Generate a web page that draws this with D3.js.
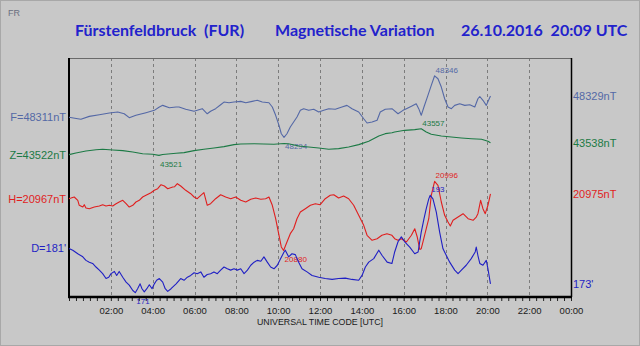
<!DOCTYPE html>
<html>
<head>
<meta charset="utf-8">
<script src="https://cdn.jsdelivr.net/npm/d3@7"></script>
<style>
  html, body { margin: 0; padding: 0; background: #c8c8c8; }
  svg { display: block; }
</style>
</head>
<body>
<svg id="chart" width="640" height="346"></svg>
<script>
// Hours on the x axis with labels (24 h is shown as the next midnight)
const hourTicks = [2, 4, 6, 8, 10, 12, 14, 16, 18, 20, 22, 24];
const hourLabels = ["02:00", "04:00", "06:00", "08:00", "10:00", "12:00",
                    "14:00", "16:00", "18:00", "20:00", "22:00", "00:00"];

// Total field F [nT] — [hour UTC, value]
const fSeries = [
  [0,48311],[0.42,48309.7],[0.57,48309.2],[0.97,48311.7],[1.45,48313.1],[1.93,48314.5],
  [2.33,48315.4],[2.64,48313.9],[2.88,48310.6],[3.2,48312.6],[3.68,48314.8],[4.08,48316.8],
  [4.32,48319.6],[4.48,48321],[4.8,48319],[5.12,48319.6],[5.26,48319.6],[5.58,48317.7],
  [5.98,48316],[6.13,48316.8],[6.37,48318.2],[6.61,48313.9],[6.77,48316],[7.01,48318.2],
  [7.25,48321.5],[7.41,48323.8],[7.65,48323.2],[7.89,48323.8],[8.21,48324.4],[8.45,48323.2],
  [8.76,48324.4],[9.0,48325.3],[9.24,48323.8],[9.56,48323.2],[9.72,48319.6],[9.88,48312.6],
  [10.04,48304.1],[10.15,48297],[10.28,48294],[10.42,48297],[10.58,48302.7],[10.74,48306.9],
  [10.9,48311.2],[11.06,48316.8],[11.22,48318.2],[11.46,48316.8],[11.7,48317.7],[11.94,48315.4],
  [12.18,48316.8],[12.42,48318.2],[12.73,48317.7],[13.05,48319.6],[13.29,48321],[13.53,48318.2],
  [13.85,48315.4],[14.09,48309.7],[14.25,48306.1],[14.49,48306.9],[14.73,48308.4],[14.88,48315.4],
  [15.12,48317.7],[15.44,48318.2],[15.73,48313.9],[15.97,48316.8],[16.13,48318.2],[16.37,48320.2],
  [16.6,48322.4],[16.72,48318.2],[16.84,48312.6],[16.97,48319.6],[17.16,48329.5],[17.32,48337.9],
  [17.48,48346],[17.64,48343.5],[17.8,48336.5],[17.96,48326.6],[18.12,48319.6],[18.28,48318.2],
  [18.44,48321],[18.68,48322.4],[18.92,48321],[19.16,48321.5],[19.4,48319.6],[19.55,48326.6],
  [19.64,48328.5],[19.79,48325.3],[19.95,48321],[20.15,48329]
];

// Vertical component Z [nT]
const zSeries = [
  [0,43522],[0.33,43524.3],[0.81,43527],[1.29,43528.7],[1.61,43529.3],[2.09,43528.3],
  [2.57,43527.4],[3.05,43525.6],[3.52,43523.3],[4.0,43522.6],[4.3,43521],[4.48,43522.3],
  [5.12,43523.9],[5.5,43524.7],[5.98,43527.4],[6.45,43529.3],[6.93,43531],[7.41,43532.8],
  [7.89,43535.5],[8.21,43536.4],[8.85,43536.8],[9.32,43536.4],[9.8,43536],[10.28,43537],
  [10.49,43536.8],[10.98,43533.7],[11.46,43532.4],[11.94,43531],[12.42,43529.3],[12.89,43530.1],
  [13.37,43532.4],[13.85,43535.5],[14.33,43540],[14.81,43547.2],[15.12,43550.3],[15.44,43551.6],
  [15.57,43552.6],[16.05,43554.8],[16.53,43555.7],[16.84,43557],[17.08,43552.6],[17.32,43549.5],
  [17.8,43547.2],[18.28,43545.8],[18.76,43544.5],[19.24,43543.5],[19.72,43542.7],[20.03,43540],
  [20.15,43538]
];

// Horizontal component H [nT]
const hSeries = [
  [0,20967],[0.1,20968],[0.25,20969.7],[0.42,20964.1],[0.49,20955.8],[0.66,20952.9],
  [0.73,20956.8],[0.81,20951.2],[0.97,20950.1],[1.21,20952.9],[1.45,20954.6],[1.61,20956.8],
  [1.77,20954.6],[1.93,20955.8],[2.09,20954.6],[2.25,20958.4],[2.4,20961.3],[2.57,20964.1],
  [2.73,20958.4],[2.88,20952.9],[3.05,20955.8],[3.2,20961.3],[3.36,20964.1],[3.52,20969.7],
  [3.68,20972.5],[3.92,20976.9],[4.08,20980.9],[4.24,20983.6],[4.4,20990.3],[4.56,20988.1],
  [4.72,20983.6],[4.96,20986.4],[5.05,20987],[5.18,20992],[5.34,20988.1],[5.58,20980.9],
  [5.82,20975.2],[5.98,20969.7],[6.13,20966.8],[6.3,20972.5],[6.45,20976.9],[6.61,20955.8],
  [6.77,20958.4],[7.01,20966.8],[7.25,20973.5],[7.49,20969.7],[7.73,20966.8],[7.97,20969.7],
  [8.21,20964.1],[8.45,20961.3],[8.69,20965.8],[8.93,20968],[9.17,20965.8],[9.4,20966.8],
  [9.56,20969.7],[9.72,20955.8],[9.88,20933.3],[10.04,20905.5],[10.15,20885.9],[10.26,20880],
  [10.42,20894.2],[10.58,20908.2],[10.74,20916.5],[10.9,20933.3],[11.06,20944.5],[11.3,20950.1],
  [11.54,20955.8],[11.78,20958.4],[12.01,20956.8],[12.25,20966.8],[12.49,20972.5],[12.66,20973.5],
  [12.89,20968],[13.13,20971.3],[13.37,20966.8],[13.61,20955.8],[13.85,20939],[14.09,20922.2],
  [14.25,20905.5],[14.49,20897.1],[14.73,20899.8],[14.96,20905.5],[15.2,20908.2],[15.44,20905.5],
  [15.57,20899.8],[15.73,20897.1],[15.89,20899.8],[16.13,20894.2],[16.37,20905.5],[16.53,20916.5],
  [16.65,20902.6],[16.77,20881.7],[16.84,20883],[16.92,20894.2],[17.08,20916.5],[17.2,20933.3],
  [17.32,20972.5],[17.48,20996],[17.64,20989.3],[17.8,20961.3],[17.96,20939],[18.12,20927.8],
  [18.23,20921.1],[18.36,20930.6],[18.6,20936.1],[18.84,20941.7],[19.08,20933.3],[19.32,20930.6],
  [19.47,20936.1],[19.55,20941.7],[19.68,20964.1],[19.79,20950.1],[19.9,20941.7],[20.03,20955.8],
  [20.15,20975]
];

// Declination D [arc minutes]
const dSeries = [
  [0,181],[0.18,180.6],[0.42,179.8],[0.66,179.1],[0.81,178.3],[0.97,177.9],[1.13,177.6],
  [1.29,176.8],[1.45,176.1],[1.61,175.3],[1.77,174.2],[1.9,174.5],[2.01,175.3],[2.17,175.8],
  [2.28,174.9],[2.4,175.8],[2.57,174.5],[2.73,173.4],[2.88,172.7],[3.05,171.5],[3.17,171],
  [3.28,171.9],[3.4,173],[3.49,171.9],[3.6,171.2],[3.72,171.9],[3.84,172.8],[3.97,171.9],
  [4.08,173],[4.19,173.8],[4.32,174.2],[4.48,173.4],[4.6,171.9],[4.72,171.3],[4.88,171.9],
  [5.12,173],[5.34,174.2],[5.5,173.8],[5.66,174.5],[5.82,174.9],[5.98,175.5],[6.13,175.3],
  [6.3,175.7],[6.45,174.5],[6.61,175.1],[6.77,175.3],[6.93,175.7],[7.09,175.3],[7.25,176.1],
  [7.41,176.8],[7.57,176.4],[7.73,176.1],[7.89,176.4],[8.05,176.1],[8.21,176.4],[8.37,175.3],
  [8.53,176.1],[8.69,177.2],[8.85,177.9],[9.0,178.3],[9.17,178.1],[9.32,179.1],[9.48,177.9],
  [9.64,176.8],[9.8,176.4],[9.96,177.2],[10.12,178.7],[10.28,180.2],[10.34,180.6],[10.5,179.1],
  [10.66,179.8],[10.82,179.6],[10.98,177.9],[11.14,176.4],[11.38,175.7],[11.62,174.9],
  [11.94,174.5],[12.25,174.2],[12.58,174],[12.89,174.2],[13.21,174.3],[13.53,174],[13.85,173.8],
  [14.01,174.9],[14.17,176.8],[14.33,177.9],[14.57,178.7],[14.81,180.6],[14.97,179.4],
  [15.21,177.9],[15.44,177.6],[15.57,180.2],[15.73,182.5],[15.89,183.6],[16.05,182.5],
  [16.29,181.3],[16.53,179.8],[16.69,180.2],[16.84,184.7],[16.97,187.7],[17.08,190],
  [17.2,192.2],[17.27,193],[17.4,192.2],[17.56,189.2],[17.72,184.7],[17.88,180.9],[18.04,179.4],
  [18.2,177.9],[18.44,176.1],[18.6,175.3],[18.76,176.1],[18.99,177.2],[19.23,178.7],[19.42,180.2],
  [19.47,181.3],[19.55,179.4],[19.64,177.6],[19.79,177.2],[19.95,178.3],[20.03,176.4],[20.15,173]
];

const svg = d3.select("#chart");
const W = 640, H = 346;
const plot = { left: 69, right: 571, top: 58, bottom: 297 };
const arial = "'Liberation Sans', Arial, sans-serif";

// Each trace gets its own vertical band inside the plot area
const traces = [
  { key: "F", data: fSeries, unit: "nT", color: "#5468a6", band: [137.3, 75.8] },
  { key: "Z", data: zSeries, unit: "nT", color: "#1c7a45", band: [155.4, 128.7] },
  { key: "H", data: hSeries, unit: "nT", color: "#e01e1e", band: [250.5, 181.3] },
  { key: "D", data: dSeries, unit: "'",  color: "#1f1fc4", band: [292.7, 195.3] }
];

// Frame of the panel
svg.append("rect").attr("x", 0).attr("y", 0).attr("width", W).attr("height", H)
  .attr("fill", "#c8c8c8");
svg.append("rect").attr("x", 0.5).attr("y", 0.5).attr("width", W - 1).attr("height", H - 1)
  .attr("fill", "none").attr("stroke", "#a8a8a8");

// Station code
svg.append("text").attr("x", 8).attr("y", 16).text("FR")
  .attr("font-family", arial).attr("font-size", 9).attr("fill", "#6a6f80");

// Headline
const titleFont = "Lato, 'Open Sans', sans-serif";
[["Fürstenfeldbruck  (FUR)", 75], ["Magnetische Variation", 275], ["26.10.2016  20:09 UTC", 461]]
  .forEach(([txt, x]) => {
    svg.append("text").attr("x", x).attr("y", 36).text(txt)
      .attr("xml:space", "preserve").style("white-space", "pre")
      .attr("font-family", titleFont).attr("font-weight", 700).attr("font-size", 16)
      .attr("fill", "#2222cc");
  });

const x = d3.scaleLinear().domain([0, 24]).range([plot.left, plot.right]);

// Dashed two-hour grid
svg.append("g").selectAll("line").data(hourTicks.filter(h => h < 24)).join("line")
  .attr("x1", d => Math.round(x(d)) + 0.5).attr("x2", d => Math.round(x(d)) + 0.5)
  .attr("y1", plot.top).attr("y2", plot.bottom)
  .attr("stroke", "#7c7c7c").attr("stroke-dasharray", "3,3");

// Plot frame
svg.append("line").attr("x1", plot.left).attr("x2", plot.right)
  .attr("y1", plot.top + 0.5).attr("y2", plot.top + 0.5).attr("stroke", "#6a6a6a");
svg.append("line").attr("x1", plot.right + 0.5).attr("x2", plot.right + 0.5)
  .attr("y1", plot.top).attr("y2", plot.bottom).attr("stroke", "#000").attr("stroke-width", 1.5);
svg.append("line").attr("x1", plot.left).attr("x2", plot.left)
  .attr("y1", plot.top).attr("y2", plot.bottom).attr("stroke", "#000").attr("stroke-width", 2);

// Minor ticks every 20 minutes
const minor = d3.range(0, 24 * 3 + 1).map(i => i / 3);
svg.append("g").attr("transform", `translate(0,${plot.bottom})`)
  .call(d3.axisBottom(x).tickValues(minor).tickSize(4).tickFormat(""))
  .call(g => g.select(".domain").remove())
  .call(g => g.selectAll(".tick line").attr("stroke", "#222"));

// Hour labels
const hourAxis = d3.axisBottom(x).tickValues(hourTicks).tickSize(0).tickPadding(10)
  .tickFormat((d, i) => hourLabels[i]);
svg.append("g").attr("transform", `translate(0,${plot.bottom})`).call(hourAxis)
  .call(g => g.select(".domain").remove())
  .call(g => g.selectAll("text").attr("font-family", arial).attr("font-size", 9.5).attr("fill", "#1a1a1a"));

svg.append("line").attr("x1", plot.left - 1).attr("x2", plot.right + 1)
  .attr("y1", plot.bottom).attr("y2", plot.bottom).attr("stroke", "#000").attr("stroke-width", 2.5);

svg.append("text").attr("x", (plot.left + plot.right) / 2).attr("y", 325)
  .attr("text-anchor", "middle").text("UNIVERSAL TIME CODE [UTC]")
  .attr("font-family", arial).attr("font-size", 8.8).attr("fill", "#1a1a1a");

// Traces, start/end values and extreme annotations
traces.forEach(tr => {
  const vals = tr.data.map(d => d[1]);
  const y = d3.scaleLinear().domain(d3.extent(vals)).range(tr.band);
  const line = d3.line().x(d => x(d[0])).y(d => y(d[1]));

  svg.append("path").datum(tr.data).attr("d", line)
    .attr("fill", "none").attr("stroke", tr.color).attr("stroke-width", 1.1)
    .attr("stroke-linejoin", "round");

  const first = tr.data[0], last = tr.data[tr.data.length - 1];
  svg.append("text").attr("x", plot.left - 3).attr("y", y(first[1])).attr("dy", "0.36em")
    .attr("text-anchor", "end").text(`${tr.key}=${first[1]}${tr.unit}`)
    .attr("font-family", arial).attr("font-size", 11).attr("fill", tr.color);
  svg.append("text").attr("x", plot.right + 2).attr("y", y(last[1])).attr("dy", "0.36em")
    .text(`${last[1]}${tr.unit}`)
    .attr("font-family", arial).attr("font-size", 11).attr("fill", tr.color);

  const hi = tr.data[d3.maxIndex(vals)], lo = tr.data[d3.minIndex(vals)];
  svg.append("text").attr("x", x(hi[0]) + 1).attr("y", y(hi[1]) - 3).text(hi[1])
    .attr("font-family", arial).attr("font-size", 8).attr("fill", tr.color);
  svg.append("text").attr("x", x(lo[0]) + 1).attr("y", y(lo[1]) + 11.3).text(lo[1])
    .attr("font-family", arial).attr("font-size", 8).attr("fill", tr.color);
});
</script>
</body>
</html>
